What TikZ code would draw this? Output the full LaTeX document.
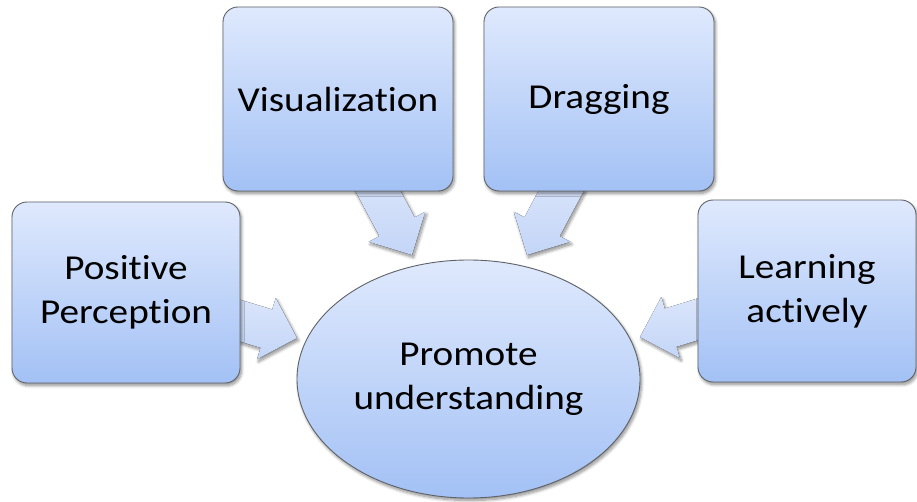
\documentclass[tikz,border=0pt]{standalone}
\usepackage{fontspec}
\setmainfont{Carlito}[FakeStretch=1.12, Ligatures=NoCommon]
\usetikzlibrary{shapes.geometric,shadows.blur}
\definecolor{boxtop}{HTML}{DFE9FD}
\definecolor{boxbot}{HTML}{A3C1F5}
\definecolor{arrtop}{HTML}{DCE6FB}
\definecolor{arrbot}{HTML}{C3D5F7}
\definecolor{edgegrey}{HTML}{5F6368}
\tikzset{
  softshadow/.style={blur shadow={shadow xshift=1.5pt, shadow yshift=-2.5pt, shadow blur radius=3pt, shadow blur steps=8, shadow opacity=45}},
  box/.style={rectangle, rounded corners=15pt, draw=edgegrey, line width=0.9pt,
    top color=boxtop, bottom color=boxbot, align=center, inner sep=0pt,
    font=\fontsize{35}{44}\selectfont, softshadow},
  centre/.style={ellipse, draw=edgegrey, line width=0.9pt,
    top color=boxtop, bottom color=boxbot, align=center, inner sep=0pt,
    font=\fontsize{35}{44}\selectfont, softshadow},
  arrowsty/.style={top color=arrtop, bottom color=arrbot, softshadow}
}
\newcommand\blockarrow[3]{%
  \begin{scope}[shift={(#1)}, rotate=#2]
    \fill[arrowsty] (0,0) -- (-32,32) -- (-32,20) -- (-#3,20) -- (-#3,-20) -- (-32,-20) -- (-32,-32) -- cycle;
  \end{scope}}
\begin{document}
\begin{tikzpicture}[x=1pt,y=1pt]
  \useasboundingbox (0,0) rectangle (917,-502);
  % centre
  \node[centre, minimum width=343pt, minimum height=238pt] (pu) at (468.5,-379) {Promote\\understanding};
  % arrow tips
  \coordinate (vtip) at (412,-255);
  \coordinate (dtip) at (527,-255);
  \coordinate (ptip) at (297,-338);
  \coordinate (ltip) at (640,-337);
  \blockarrow{vtip}{-62}{85}
  \blockarrow{dtip}{-118}{85}
  \blockarrow{ptip}{-17}{80}
  \blockarrow{ltip}{-163}{80}
  % boxes
  \node[box, minimum width=230pt, minimum height=184pt] (vis) at (338,-99) {Visualization};
  \node[box, minimum width=230pt, minimum height=184pt] (drag) at (599,-99) {Dragging};
  \node[box, minimum width=228pt, minimum height=181pt] (pos) at (126,-292.5) {Positive\\Perception};
  \node[box, minimum width=218pt, minimum height=182pt] (learn) at (807,-291) {Learning\\actively};
\end{tikzpicture}
\end{document}
